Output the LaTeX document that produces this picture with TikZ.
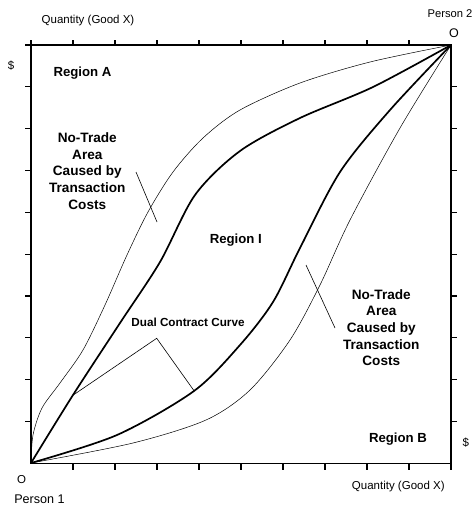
\documentclass[tikz,border=0pt]{standalone}
\usepackage{fontspec}
\setmainfont{Liberation Sans}
\begin{document}
\begin{tikzpicture}[x=1pt,y=-1pt,
  axis/.style={line width=1.3pt},
  tickline/.style={line width=1.1pt},
  thickcurve/.style={line width=1.7pt, line join=round},
  thincurve/.style={line width=0.5pt},
  leader/.style={line width=0.6pt},
  lbl/.style={inner sep=0pt, anchor=base, font=\fontsize{11.5}{13}\selectfont},
  blbl/.style={inner sep=0pt, anchor=base, font=\fontsize{13.2}{16}\selectfont\bfseries},
  ntlbl/.style={inner sep=0pt, anchor=base, font=\fontsize{13.6}{16}\selectfont\bfseries}]
\useasboundingbox (0,0) rectangle (475,508);

% box and ticks
\draw[axis] (31,45) rectangle (451,463.3);
\foreach \k in {0,...,9} \draw[tickline] ({31+42*\k},45) -- ++(0,-4.5);
\foreach \k in {1,...,10} \draw[tickline] (31,{463.3-41.83*\k}) -- ++(-6,0);
\foreach \k in {1,...,10} \draw[tickline] ({31+42*\k},463.3) -- ++(0,6.5);
\foreach \k in {1,...,9} \draw[tickline] (451,{463.3-41.83*\k}) -- ++(6,0);

% curves
\draw[thincurve] plot[smooth, tension=0.5] coordinates {(31,463) (33,435) (42,408) (60,383) (83,350) (105,305) (127,255) (148,212) (173,172) (203,138) (240,110) (300,83) (370,62) (451,45)};
\draw[thickcurve] plot[smooth, tension=0.5] coordinates {(31,463) (73,395) (120,323) (160,262) (195,195) (240,151) (300,118) (373,87) (451,45)};
\draw[thickcurve] plot[smooth, tension=0.5] coordinates {(31,463) (117,435) (194,391) (240,345) (273,302) (300,248) (340,172) (390,110) (451,45)};
\draw[thincurve] plot[smooth, tension=0.5] coordinates {(31,463) (133,443) (206,420) (250,390) (290,340) (320,285) (350,220) (400,128) (451,45)};

% texts
\node[lbl] (qtop) at (88,24) {Quantity (Good X)};
\node[lbl] (dleft) at (11,70) {\$};
\node[blbl] (rega) at (82.5,77) {Region A};
\node[lbl, font=\fontsize{11.2}{13}\selectfont] (p2) at (450,18) {Person 2};
\node[lbl, font=\fontsize{12.5}{14}\selectfont] (o2) at (454,38) {O};
\node[lbl, font=\fontsize{11.5}{14}\selectfont] (o1) at (21.7,483) {O};
\node[lbl, font=\fontsize{12.6}{14}\selectfont] (p1) at (39.5,503) {Person 1};
\node[blbl] (regb) at (398,442.5) {Region B};
\node[lbl] (dright) at (465.7,446) {\$};
\node[lbl] (qbot) at (398.3,489) {Quantity (Good X)};
\node[blbl] (regi) at (235.8,243) {Region I};
\node[lbl, font=\fontsize{11.7}{13}\selectfont\bfseries] (dcc) at (188,326.7) {Dual Contract Curve};

\foreach \t [count=\i] in {No-Trade,Area,Caused by,Transaction,Costs} {
  \node[ntlbl] (ntl\i) at (87.3,{142.3+16.7*(\i-1)}) {\t};
  \node[ntlbl] (ntr\i) at (381.3,{299+16.7*(\i-1)}) {\t};
}

% leader lines
\coordinate (la) at (136,172);
\coordinate (lb) at (157,222);
\coordinate (ra) at (306,265);
\coordinate (rb) at (335,328);
\draw[leader] (la) -- (lb);
\draw[leader] (ra) -- (rb);

\coordinate (dca) at (73.3,395);
\coordinate (dcb) at (156.7,338.3);
\coordinate (dcc2) at (194,390.7);
\draw[leader] (dca) -- (dcb) -- (dcc2);
\end{tikzpicture}
\end{document}
